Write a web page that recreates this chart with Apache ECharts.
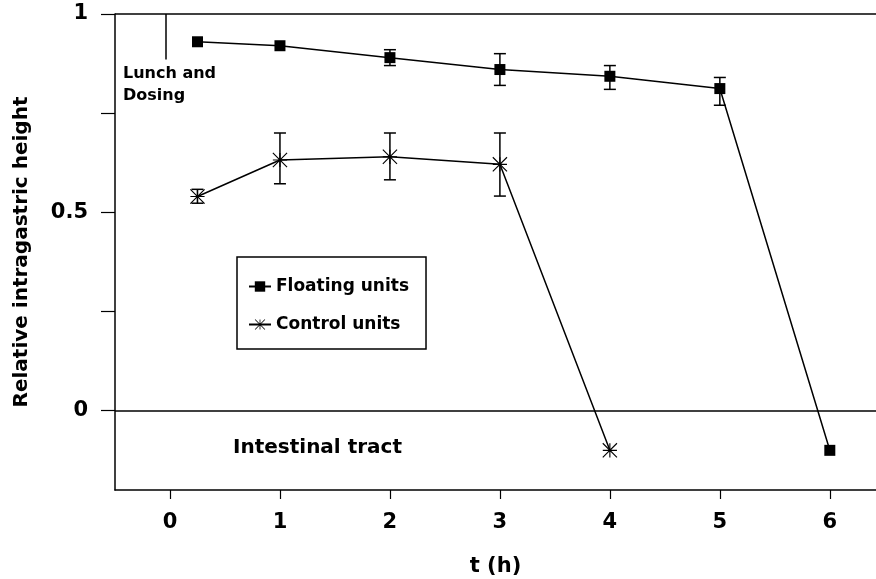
<!DOCTYPE html>
<html>
<head>
<meta charset="utf-8">
<script src="https://cdn.jsdelivr.net/npm/echarts@6/dist/echarts.min.js"></script>
<style>
  html, body { margin: 0; padding: 0; background: #fff; }
  #chart { width: 876px; height: 579px; }
</style>
</head>
<body>
<div id="chart"></div>
<script>
// data
const floatingX = [0.25, 1, 2, 3, 4, 5, 6];
const floatingY = [0.93, 0.92, 0.89, 0.86, 0.843, 0.812, -0.1];
const floatingLow = [null, null, 0.87, 0.82, 0.81, 0.77, null];
const floatingHigh = [null, null, 0.91, 0.90, 0.87, 0.84, null];

const controlX = [0.25, 1, 2, 3, 4];
const controlY = [0.54, 0.632, 0.64, 0.621, -0.1];
const controlLow = [0.523, 0.572, 0.582, 0.541, null];
const controlHigh = [0.558, 0.70, 0.70, 0.70, null];

const xTicks = [0, 1, 2, 3, 4, 5, 6];
const yTicks = [0, 0.25, 0.5, 0.75, 1];
const yLabels = [0, 0.5, 1];

const FONT = 'DejaVu Sans';

// asterisk marker as a filled path
const asterisk = 'path://M0 9.2H20V10.8H0Z M9.2 0H10.8V20H9.2Z ' +
  'M0.566 -0.566L20.566 19.434L19.434 20.566L-0.566 0.566Z ' +
  'M20.566 0.566L0.566 20.566L-0.566 19.434L19.434 -0.566Z';

const pairs = (xs, ys) => xs.map((x, i) => [x, ys[i]]);
const errData = [];
floatingX.forEach((x, i) => {
  if (floatingLow[i] != null) errData.push([x, floatingLow[i], floatingHigh[i]]);
});
controlX.forEach((x, i) => {
  if (controlLow[i] != null) errData.push([x, controlLow[i], controlHigh[i]]);
});

const chart = echarts.init(document.getElementById('chart'));

const option = {
  animation: false,
  textStyle: { fontFamily: FONT },
  grid: { left: 115, right: 0, top: 14, bottom: 89, outerBoundsMode: 'none' },
  legend: {
    orient: 'vertical',
    left: 237,
    top: 257,
    padding: [21, 17, 16, 11],
    itemGap: 21,
    itemWidth: 22,
    itemHeight: 13,
    borderColor: '#000',
    borderWidth: 1.5,
    textStyle: { fontFamily: FONT, fontWeight: 'bold', fontSize: 17, color: '#000' },
    data: ['Floating units', 'Control units']
  },
  xAxis: {
    type: 'value',
    min: -0.5,
    max: 6.42,
    name: 't (h)',
    nameLocation: 'middle',
    nameGap: 66,
    nameTextStyle: { fontFamily: FONT, fontWeight: 'bold', fontSize: 21, color: '#000' },
    axisLine: { onZero: false, lineStyle: { color: '#000', width: 1.5 } },
    axisTick: { show: true, length: 9, customValues: xTicks, lineStyle: { color: '#000', width: 1.2 } },
    axisLabel: { customValues: xTicks, margin: 22, fontFamily: FONT, fontWeight: 'bold', fontSize: 21, color: '#000' },
    splitLine: { show: false }
  },
  yAxis: {
    type: 'value',
    min: -0.2,
    max: 1,
    name: 'Relative intragastric height',
    nameLocation: 'middle',
    nameGap: 83,
    nameTextStyle: { fontFamily: FONT, fontWeight: 'bold', fontSize: 20, color: '#000' },
    axisLine: { show: true, onZero: false, lineStyle: { color: '#000', width: 1.5 } },
    axisTick: { show: true, length: 14, customValues: yTicks, lineStyle: { color: '#000', width: 1.2 } },
    axisLabel: { customValues: yLabels, margin: 27, fontFamily: FONT, fontWeight: 'bold', fontSize: 21, color: '#000' },
    splitLine: { show: false }
  },
  graphic: [
    { type: 'text', left: 123, top: 63, style: { text: 'Lunch and\nDosing', font: 'bold 16px "DejaVu Sans"', fill: '#000', lineHeight: 22 } },
    { type: 'text', left: 233, top: 438, style: { text: 'Intestinal tract', font: 'bold 20px "DejaVu Sans"', fill: '#000' } }
  ],
  series: [
    {
      name: 'Floating units',
      type: 'line',
      data: pairs(floatingX, floatingY),
      symbol: 'rect',
      symbolSize: 11,
      itemStyle: { color: '#000' },
      lineStyle: { color: '#000', width: 1.5 },
      markLine: {
        silent: true,
        symbol: 'none',
        label: { show: false },
        lineStyle: { color: '#000', width: 1.5, type: 'solid' },
        data: [
          { yAxis: 0 },
          { yAxis: 1 },
          [{ coord: [-0.04, 1] }, { coord: [-0.04, 0.885] }]
        ]
      }
    },
    {
      name: 'Control units',
      type: 'line',
      data: pairs(controlX, controlY),
      symbol: asterisk,
      symbolSize: 15,
      itemStyle: { color: '#000' },
      lineStyle: { color: '#000', width: 1.5 }
    },
    {
      type: 'custom',
      data: errData,
      renderItem: function (params, api) {
        const lo = api.coord([api.value(0), api.value(1)]);
        const hi = api.coord([api.value(0), api.value(2)]);
        const w = 6;
        const style = { stroke: '#000', lineWidth: 1.5 };
        return {
          type: 'group',
          children: [
            { type: 'line', shape: { x1: lo[0], y1: lo[1], x2: hi[0], y2: hi[1] }, style: style },
            { type: 'line', shape: { x1: lo[0] - w, y1: lo[1], x2: lo[0] + w, y2: lo[1] }, style: style },
            { type: 'line', shape: { x1: hi[0] - w, y1: hi[1], x2: hi[0] + w, y2: hi[1] }, style: style }
          ]
        };
      },
      z: 3
    }
  ]
};

chart.setOption(option);
</script>
</body>
</html>
